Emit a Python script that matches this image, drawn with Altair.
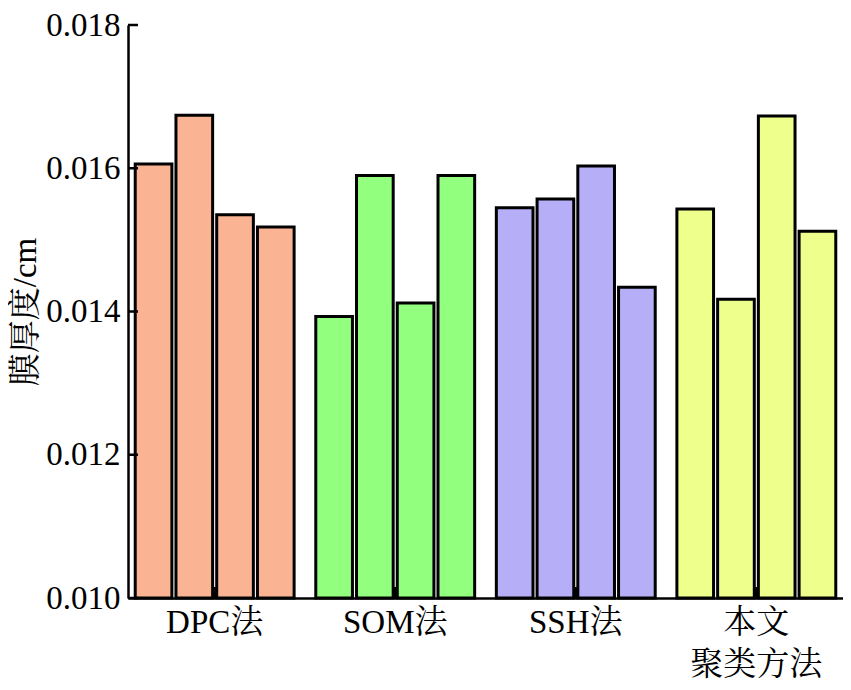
import altair as alt
import pandas as pd

methods = ["DPC法", "SOM法", "SSH法", "本文|聚类方法"]
colors = ["#FAB494", "#93FF7F", "#B6AEF6", "#EEFF8C"]
bar_idx = ["1", "2", "3", "4"]
dpc = [0.01606, 0.01674, 0.01535, 0.01518]
som = [0.01393, 0.01590, 0.01412, 0.01590]
ssh = [0.01545, 0.01557, 0.01603, 0.01434]
ours = [0.01543, 0.01417, 0.01673, 0.01512]
y_ticks = [0.010, 0.012, 0.014, 0.016, 0.018]

rows = []
for m, vals in zip(methods, [dpc, som, ssh, ours]):
    for i, v in zip(bar_idx, vals):
        rows.append({"method": m, "idx": i, "value": v})
df = pd.DataFrame(rows)
df_m = pd.DataFrame({"method": methods})
df_t = pd.DataFrame({"value": y_ticks})

FONT = "'Liberation Serif', 'Times New Roman', 'Noto Serif CJK SC', 'Noto Sans CJK SC', serif"
W, H = 715, 573

xscale = alt.Scale(domain=methods, paddingInner=0.12, paddingOuter=0.04)
yscale = alt.Scale(domain=[0.010, 0.018], zero=False, nice=False)

xaxis = alt.Axis(title=None, labelAngle=0, ticks=False, domain=True,
                 domainColor="black", domainWidth=2.5,
                 labelFont=FONT, labelFontSize=33, labelColor="black",
                 labelPadding=8, labelLineHeight=42, labelBaseline="top",
                 labelExpr="split(datum.label, '|')")
yaxis = alt.Axis(values=y_ticks, format=".3f", ticks=False, grid=False,
                 domain=True, domainColor="black", domainWidth=2.5,
                 labelFont=FONT, labelFontSize=33, labelColor="black",
                 labelPadding=8, labelFlush=False, labelOverlap=False,
                 title="膜厚度/cm", titleFont=FONT, titleFontSize=33,
                 titleFontWeight="normal", titleColor="black",
                 titleAngle=-90, titleX=-103, titleY=H / 2,
                 titleAlign="center", titleBaseline="middle")

bars = alt.Chart(df).mark_bar(stroke="black", strokeWidth=3).encode(
    x=alt.X("method:N", sort=methods, scale=xscale, axis=xaxis),
    xOffset=alt.XOffset("idx:N", scale=alt.Scale(paddingInner=0.1)),
    y=alt.Y("value:Q", scale=yscale, axis=yaxis),
    y2=alt.datum(0.010),
    color=alt.Color("method:N", scale=alt.Scale(domain=methods, range=colors), legend=None),
)

yt = alt.Chart(df_t).mark_rule(color="black", strokeWidth=2.5).encode(
    y=alt.Y("value:Q", scale=yscale, axis=yaxis),
    x=alt.value(0),
    x2=alt.value(10),
)

xt = alt.Chart(df_m).mark_rule(color="black", strokeWidth=4).encode(
    x=alt.X("method:N", sort=methods, scale=xscale, axis=xaxis),
    y=alt.value(H),
    y2=alt.value(H - 11),
)

chart = alt.layer(bars, yt, xt).properties(
    width=W, height=H,
    autosize=alt.AutoSizeParams(type="none"),
    padding={"left": 120, "top": 17, "right": 0, "bottom": 92},
    background="white",
).configure_view(stroke=None)

chart.save("out.html", embed_options={"renderer": "svg", "actions": False})
